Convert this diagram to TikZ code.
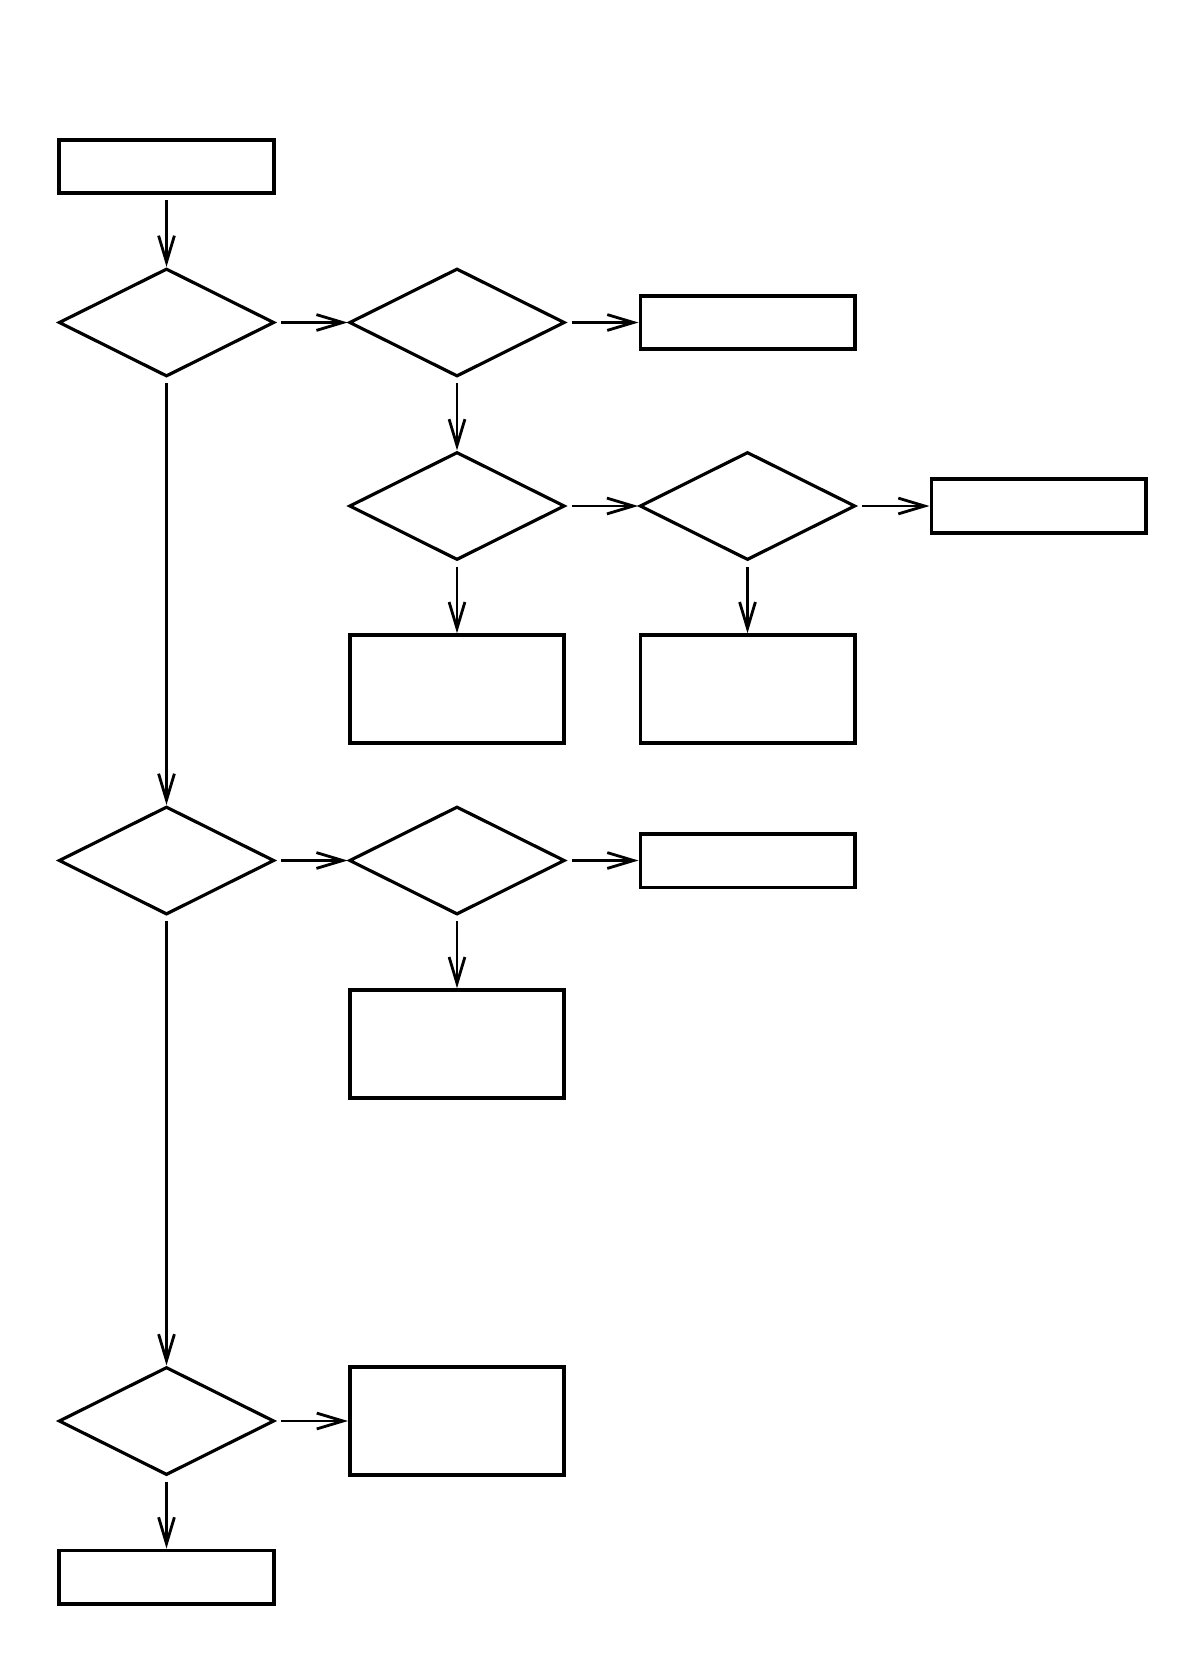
\documentclass[tikz,border=0pt]{standalone}
\usetikzlibrary{shapes.geometric,arrows.meta}

\begin{document}
\begin{tikzpicture}[
  box/.style={draw,line width=2pt,minimum width=4.29cm,minimum height=1.07cm,inner sep=0pt},
  tallbox/.style={box,minimum height=2.16cm},
  test/.style={draw,diamond,aspect=2,line width=1.8pt,minimum width=4.31cm,minimum height=2.16cm,inner sep=0pt},
  flow/.style={-{Straight Barb[length=15pt,width=9pt,line width=1.6pt]},line width=1.6pt,shorten <=3pt}
]
\useasboundingbox (0,0) rectangle (23.98,-33.48);
% first column
\node[box] (start) at (3.33,-3.33) {};
\node[test] (t1) at (3.33,-6.45) {};
\node[test] (t5) at (3.33,-17.21) {};
\node[test] (t7) at (3.33,-28.42) {};
\node[box] (stop) at (3.33,-31.54) {};
% upper branch
\node[test] (t2) at (9.14,-6.45) {};
\node[box] (r1) at (14.95,-6.45) {};
\node[test] (t3) at (9.14,-10.12) {};
\node[test] (t4) at (14.95,-10.12) {};
\node[box] (r2) at (20.77,-10.12) {};
\node[tallbox] (b3) at (9.14,-13.78) {};
\node[tallbox] (b4) at (14.95,-13.78) {};
% middle branch
\node[test] (t6) at (9.14,-17.21) {};
\node[box] (r3) at (14.95,-17.21) {};
\node[tallbox] (b6) at (9.14,-20.88) {};
% lower branch
\node[tallbox] (b7) at (9.14,-28.42) {};
% connectors
\draw[flow] (start) -- (t1);
\draw[flow] (t1) -- (t2);
\draw[flow] (t2) -- (r1);
\draw[flow] (t2) -- (t3);
\draw[flow] (t3) -- (t4);
\draw[flow] (t4) -- (r2);
\draw[flow] (t3) -- (b3);
\draw[flow] (t4) -- (b4);
\draw[flow] (t1) -- (t5);
\draw[flow] (t5) -- (t6);
\draw[flow] (t6) -- (r3);
\draw[flow] (t6) -- (b6);
\draw[flow] (t5) -- (t7);
\draw[flow] (t7) -- (b7);
\draw[flow] (t7) -- (stop);
\end{tikzpicture}
\end{document}
